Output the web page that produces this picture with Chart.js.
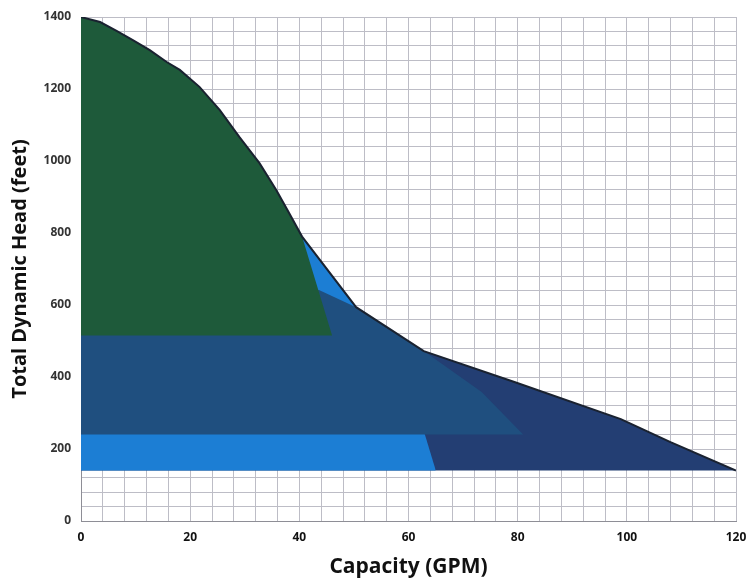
<!DOCTYPE html>
<html><head><meta charset="utf-8">
<script src="https://cdn.jsdelivr.net/npm/chart.js@4.4.1/dist/chart.umd.min.js"></script>
<style>html,body{margin:0;padding:0;background:#fff}#wrap{width:746px;height:584px;position:relative}</style>
</head><body><div id="wrap"><canvas id="c"></canvas></div>
<script>
// Axis ranges / tick labels
const xLabelStep = 20, yLabelStep = 200;
const xGridStep = 4, yGridStep = 40;
const xMax = 120, yMax = 1400;

// Outer performance envelope (Capacity GPM, Head ft)
const envelopeGpm  = [0, 3.5, 6.6, 9.5, 12.6, 15.7, 18.1, 21.7, 25.4, 29.0, 32.7, 35.8, 38.1, 40.5, 50.4, 62.8, 79.4, 98.9, 108, 120];
const envelopeHead = [1400, 1386, 1361, 1336, 1308, 1275, 1253, 1206, 1142, 1067, 994, 919, 856, 790, 594, 472, 386, 283, 219, 140];

// Green region
const greenGpm  = [0, 3.5, 6.6, 9.5, 12.6, 15.7, 18.1, 21.7, 25.4, 29.0, 32.7, 35.8, 38.1, 40.5, 46];
const greenHead = [1400, 1386, 1361, 1336, 1308, 1275, 1253, 1206, 1142, 1067, 994, 919, 856, 790, 515];
const greenBase = 515;

// Medium blue region
const midGpm  = [0, 43.6, 50.4, 62.8, 73.4, 81];
const midHead = [650, 642, 594, 472, 358, 240];
const midBase = 240;

// Bright blue region
const brightGpm  = [0, 40.5, 50.4, 63, 65];
const brightHead = [790, 790, 594, 240, 140];
const brightBase = 140;

// Navy region (full envelope)
const navyBase = 140;

const pts = (xs, ys) => xs.map((x, i) => ({x: x, y: ys[i]}));

const ds = (data, color, base) => ({
  data: data, fill: {value: base}, backgroundColor: color, borderColor: color,
  borderWidth: 0, pointRadius: 0, tension: 0
});

new Chart(document.getElementById('c'), {
  type: 'line',
  data: {
    datasets: [
      {data: pts(envelopeGpm, envelopeHead), fill: false, borderColor: '#1a2230', borderWidth: 2, pointRadius: 0, tension: 0},
      ds(pts(greenGpm, greenHead), '#1e5a3a', greenBase),
      ds(pts(midGpm, midHead), '#1f4f7f', midBase),
      ds(pts(brightGpm, brightHead), '#1c7ed4', brightBase),
      ds(pts(envelopeGpm, envelopeHead), '#233e73', navyBase)
    ]
  },
  options: {
    responsive: true, maintainAspectRatio: false, animation: false,
    layout: {padding: {left: 0, top: 17, right: 10, bottom: 0}},
    plugins: {legend: {display: false}, tooltip: {enabled: false}},
    scales: {
      x: {
        type: 'linear', min: 0, max: xMax,
        afterFit: s => { s.height = 63; s.paddingRight = 0; s.paddingLeft = 0; },
        grid: {color: '#bdbdc6', lineWidth: 1, drawTicks: false},
        border: {display: true, color: '#8e8e96', width: 1},
        ticks: {stepSize: xGridStep, autoSkip: false, maxRotation: 0, padding: 9,
          color: '#111', font: {family: 'Open Sans', size: 12, weight: 'bold'},
          callback: v => (v % xLabelStep === 0 ? String(v) : '')},
        title: {display: true, text: 'Capacity (GPM)', color: '#111',
          font: {family: 'Open Sans', size: 21, weight: 'bold'}, padding: {top: 4, bottom: 4}}
      },
      y: {
        type: 'linear', min: 0, max: yMax,
        afterFit: s => { s.width = 81; s.paddingTop = 0; s.paddingBottom = 0; },
        grid: {color: '#bdbdc6', lineWidth: 1, drawTicks: false},
        border: {display: true, color: '#8e8e96', width: 1},
        ticks: {stepSize: yGridStep, autoSkip: false, padding: 10,
          color: '#333', font: {family: 'Open Sans', size: 12, weight: 'bold'},
          callback: v => (v % yLabelStep === 0 ? String(v) : '')},
        title: {display: true, text: 'Total Dynamic Head (feet)', color: '#111',
          font: {family: 'Open Sans', size: 20, weight: 'bold'}, padding: {top: 8, bottom: 8}}
      }
    }
  }
});
</script>
</body></html>
